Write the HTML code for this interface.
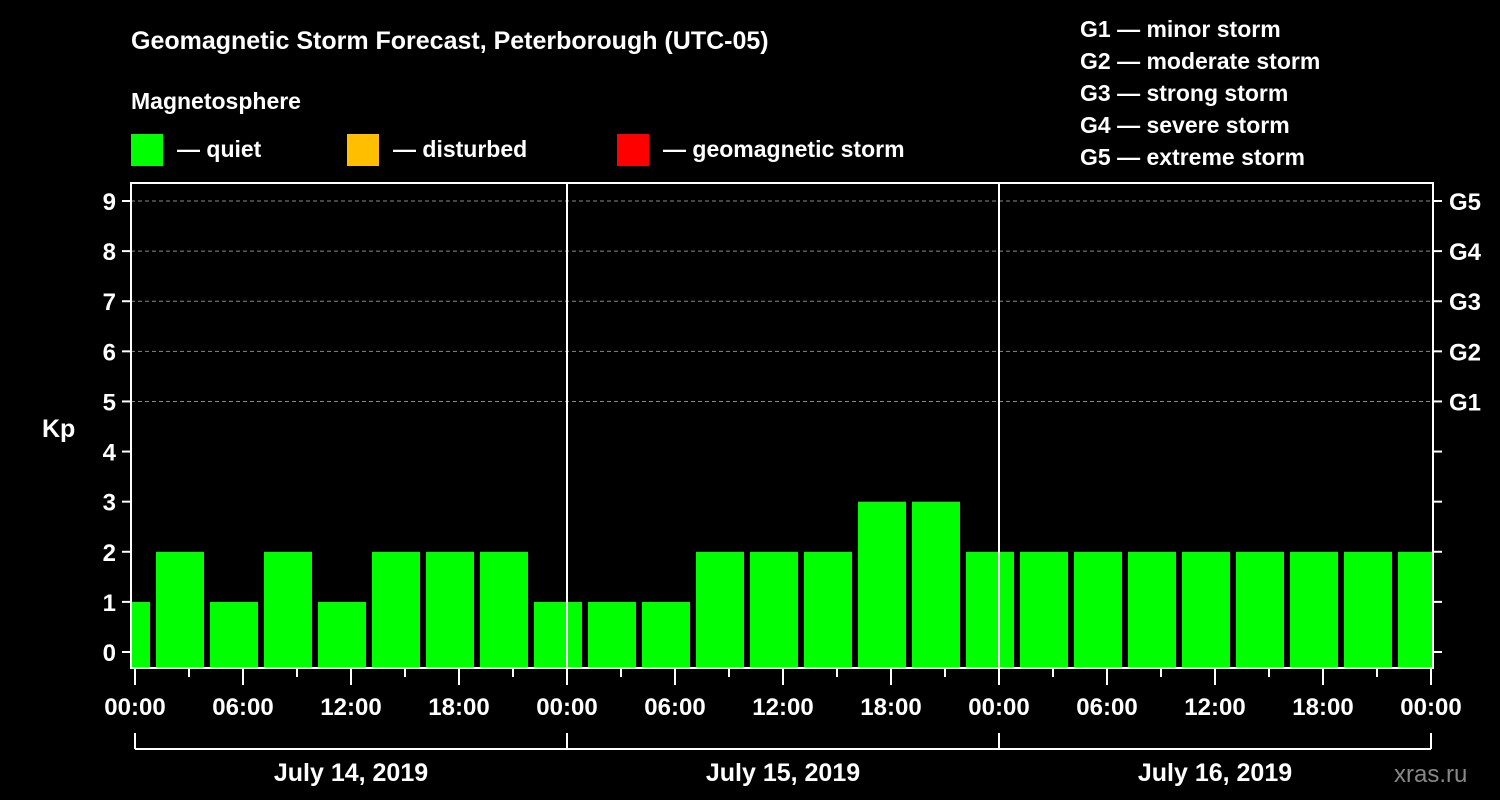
<!DOCTYPE html>
<html><head><meta charset="utf-8"><style>
body{margin:0;background:#000;}
svg{display:block;font-family:"Liberation Sans",sans-serif;font-weight:bold;}
</style></head><body>
<svg width="1500" height="800" viewBox="0 0 1500 800">
<text x="131" y="49" fill="#fff" font-size="25">Geomagnetic Storm Forecast, Peterborough (UTC-05)</text>
<text x="131" y="109" fill="#fff" font-size="23">Magnetosphere</text>
<g><rect x="131" y="134" width="32" height="32" fill="#00ff00"/><text x="177" y="157" fill="#fff" font-size="23">— quiet</text></g>
<g><rect x="347" y="134" width="32" height="32" fill="#ffbf00"/><text x="393" y="157" fill="#fff" font-size="23">— disturbed</text></g>
<g><rect x="617" y="134" width="32" height="32" fill="#ff0000"/><text x="663" y="157" fill="#fff" font-size="23">— geomagnetic storm</text></g>
<g fill="#fff" font-size="23">
<text x="1080" y="37">G1 — minor storm</text><text x="1080" y="69">G2 — moderate storm</text><text x="1080" y="101">G3 — strong storm</text><text x="1080" y="133">G4 — severe storm</text><text x="1080" y="165">G5 — extreme storm</text></g>
<text x="42" y="437" fill="#fff" font-size="25">Kp</text>
<text x="1394" y="782" fill="#888" font-size="24" font-weight="normal">xras.ru</text>
<g id="plot"></g>
</svg>
<script>
const kpValues=[1,2,1,2,1,2,2,2,1,1,1,2,2,2,3,3,2,2,2,2,2,2,2,2,2];
const yTicks=[0,1,2,3,4,5,6,7,8,9];
const gLabels=["G1","G2","G3","G4","G5"];
const hourLabels=["00:00","06:00","12:00","18:00","00:00","06:00","12:00","18:00","00:00","06:00","12:00","18:00","00:00"];
const dateLabels=["July 14, 2019","July 15, 2019","July 16, 2019"];
const NS="http://www.w3.org/2000/svg";
const g=document.getElementById('plot');
const L=131,R=1433,T=183,B=668;
const x0=135,pxH=18; // px per hour
const X=h=>x0+h*pxH;
const Y=v=>652-v*50.11;
function mk(t,a,txt){const e=document.createElementNS(NS,t);for(const k in a)e.setAttribute(k,a[k]);if(txt!=null)e.textContent=txt;g.appendChild(e);return e;}
// grid
for(let v=5;v<=9;v++){const e=mk('line',{x1:L,x2:R,y1:Y(v),y2:Y(v),stroke:'#888','stroke-dasharray':'4,3','stroke-width':1});
}
// bars: UTC 3h windows start at local hour -2 (22:00 previous day)
const clip=mk('clipPath',{id:'pc'});const cr=document.createElementNS(NS,'rect');
cr.setAttribute('x',L+1);cr.setAttribute('y',T);cr.setAttribute('width',R-L-2);cr.setAttribute('height',B-T);clip.appendChild(cr);
kpValues.forEach((v,i)=>{const hs=-2+3*i;const xa=X(hs)+3,xb=X(hs+3)-3;
const e=mk('rect',{x:xa,y:Y(v),width:xb-xa,height:B-Y(v),fill:'#00ff00','clip-path':'url(#pc)'});
});
// day separators
[24,48].forEach(h=>{const e=mk('line',{x1:X(h),x2:X(h),y1:T,y2:B,stroke:'#fff','stroke-width':2});
});
// frame
const fr=mk('rect',{x:L,y:T,width:R-L,height:B-T,fill:'none',stroke:'#fff','stroke-width':2});

// y ticks
yTicks.forEach(v=>{mk('line',{x1:122,x2:L,y1:Y(v),y2:Y(v),stroke:'#fff','stroke-width':2});
mk('line',{x1:R,x2:1442,y1:Y(v),y2:Y(v),stroke:'#fff','stroke-width':2});
const t=mk('text',{x:116,y:Y(v)+9,fill:'#fff','font-size':24,'text-anchor':'end'},String(v));
});
gLabels.forEach((s,i)=>{const t=mk('text',{x:1449,y:Y(5+i)+9,fill:'#fff','font-size':24},s);
});
// x ticks
for(let k=0;k<=24;k++){const h=3*k;const major=k%2==0;
mk('line',{x1:X(h),x2:X(h),y1:B,y2:major?685:677,stroke:'#fff','stroke-width':2});}
hourLabels.forEach((s,i)=>{const t=mk('text',{x:X(6*i),y:715,fill:'#fff','font-size':24,'text-anchor':'middle'},s);
});
// date bracket
mk('line',{x1:X(0),x2:X(72),y1:749,y2:749,stroke:'#fff','stroke-width':2});
[0,24,48,72].forEach(h=>mk('line',{x1:X(h),x2:X(h),y1:733,y2:749,stroke:'#fff','stroke-width':2}));
dateLabels.forEach((s,i)=>{const t=mk('text',{x:X(24*i+12),y:781,fill:'#fff','font-size':25,'text-anchor':'middle'},s);
});
</script>
</body></html>
